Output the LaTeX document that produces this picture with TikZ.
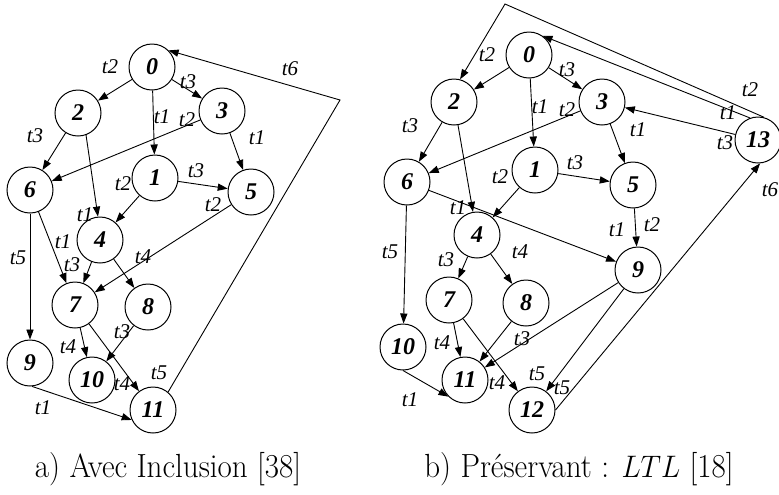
\documentclass[tikz,border=0pt]{standalone}
\usepackage{fontspec}
\newfontfamily\tms{Liberation Serif}
\usetikzlibrary{arrows.meta}
\begin{document}
\begin{tikzpicture}[x=0.5pt,y=-0.5pt,
  st/.style={circle,draw,line width=0.5pt,minimum size=23pt,inner sep=0pt,font=\tms\fontsize{12}{12}\selectfont\bfseries\itshape},
  lb/.style={inner sep=0pt,font=\tms\fontsize{10.5}{10.5}\selectfont\itshape},
  ar/.style={line width=0.45pt,-{Triangle[length=5pt,width=3.6pt]}},
  captxt/.style={inner sep=0pt,anchor=base,yscale=1.08,font=\fontsize{15.5}{17}\selectfont}]
\useasboundingbox (0,0) rectangle (779,494);
% ---------- left graph ----------
\node[st] (n0) at (152,67) {0};
\node[st] (n2) at (78,113) {2};
\node[st] (n3) at (222,111) {3};
\node[st] (n6) at (30,190) {6};
\node[st] (n1) at (155,178) {1};
\node[st] (n5) at (251,192) {5};
\node[st] (n4) at (100,240) {4};
\node[st] (n7) at (75,305) {7};
\node[st] (n8) at (148,307) {8};
\node[st] (n9) at (30,363) {9};
\node[st] (n10) at (92,380) {10};
\node[st] (n11) at (153,410) {11};
\coordinate (cL) at (340,100);
\draw[ar] (n0) -- (n2);
\draw[ar] (n0) -- (n3);
\draw[ar] (n0) -- (n1);
\draw[ar] (n2) -- (n6);
\draw[ar] (n2.-70) -- (n4.95);
\draw[ar] (n3) -- (n6);
\draw[ar] (n3) -- (n5);
\draw[ar] (n1) -- (n5);
\draw[ar] (n1) -- (n4);
\draw[ar] (n6) -- (n9);
\draw[ar] (n6) -- (n7);
\draw[ar] (n4) -- (n7);
\draw[ar] (n5) -- (n7);
\draw[ar] (n4) -- (n8);
\draw[ar] (n7) -- (n10);
\draw[ar] (n8) -- (n10);
\draw[ar] (n7) -- (n11);
\draw[ar] (n9.-85) -- (n11.205);
\draw[ar] (n11.50) -- (cL) -- (n0.45);
\node[lb] (a1) at (110,67) {t2};
\node[lb] (a2) at (188,82) {t3};
\node[lb] (a3) at (162,117) {t1};
\node[lb] (a4) at (187,120) {t2};
\node[lb] (a5) at (35,136) {t3};
\node[lb] (a6) at (257,138) {t1};
\node[lb] (a7) at (196,171) {t3};
\node[lb] (a8) at (123,184) {t2};
\node[lb] (a9) at (290,69) {t6};
\node[lb] (a10) at (213,205) {t2};
\node[lb] (a11) at (85,215) {t1};
\node[lb] (a12) at (63,242) {t1};
\node[lb] (a13) at (18,258) {t5};
\node[lb] (a14) at (72,265) {t3};
\node[lb] (a15) at (143,257) {t4};
\node[lb] (a16) at (122,332) {t3};
\node[lb] (a17) at (68,347) {t4};
\node[lb] (a18) at (159,373) {t5};
\node[lb] (a19) at (122,384) {t4};
\node[lb] (a20) at (43,408) {t1};
% ---------- right graph ----------
\node[st] (m0) at (529,55) {0};
\node[st] (m2) at (454,102) {2};
\node[st] (m3) at (602,102) {3};
\node[st] (m6) at (407,182) {6};
\node[st] (m1) at (535,170) {1};
\node[st] (m5) at (633,185) {5};
\node[st] (m13) at (758,140) {13};
\node[st] (m4) at (477,235) {4};
\node[st] (m9) at (638,270) {9};
\node[st] (m7) at (449,300) {7};
\node[st] (m8) at (526,303) {8};
\node[st] (m10) at (403,347) {10};
\node[st] (m11) at (465,380) {11};
\node[st] (m12) at (532,410) {12};
\coordinate (cR) at (505,4);
\draw[ar] (m0) -- (m2);
\draw[ar] (m0) -- (m3);
\draw[ar] (m0) -- (m1);
\draw[ar] (m2) -- (m6);
\draw[ar] (m2) -- (m4);
\draw[ar] (m3) -- (m6);
\draw[ar] (m3) -- (m5);
\draw[ar] (m1) -- (m5);
\draw[ar] (m1) -- (m4);
\draw[ar] (m6) -- (m10);
\draw[ar] (m6) -- (m9);
\draw[ar] (m5) -- (m9);
\draw[ar] (m4) -- (m7);
\draw[ar] (m4) -- (m8);
\draw[ar] (m7) -- (m11);
\draw[ar] (m8) -- (m11);
\draw[ar] (m9) -- (m11);
\draw[ar] (m7) -- (m12);
\draw[ar] (m9) -- (m12);
\draw[ar] (m10.-90) -- (m11.225);
\draw[ar] (m12.east) -- (m13.-85);
\draw[ar] (m13) -- (m3);
\draw[ar] (m13.110) -- (m0.55);
\draw[ar] (m13.75) -- (cR) -- (m2.75);
\node[lb] (b1) at (487,55) {t2};
\node[lb] (b2) at (567,70) {t3};
\node[lb] (b3) at (540,107) {t1};
\node[lb] (b4) at (567,110) {t2};
\node[lb] (b5) at (410,126) {t3};
\node[lb] (b6) at (638,130) {t1};
\node[lb] (b7) at (575,163) {t3};
\node[lb] (b8) at (500,177) {t2};
\node[lb] (b9) at (750,90) {t2};
\node[lb] (b10) at (728,113) {t1};
\node[lb] (b11) at (725,143) {t3};
\node[lb] (b12) at (770,190) {t6};
\node[lb] (b13) at (458,208) {t1};
\node[lb] (b14) at (617,230) {t1};
\node[lb] (b15) at (652,225) {t2};
\node[lb] (b16) at (390,252) {t5};
\node[lb] (b17) at (446,260) {t3};
\node[lb] (b18) at (520,252) {t4};
\node[lb] (b19) at (442,343) {t4};
\node[lb] (b20) at (522,339) {t3};
\node[lb] (b21) at (497,383) {t4};
\node[lb] (b22) at (537,374) {t5};
\node[lb] (b23) at (562,388) {t5};
\node[lb] (b24) at (410,400) {t1};
% ---------- captions ----------
\node[captxt] (capa) at (168,477) {a) Avec Inclusion [38]};
\node[captxt] (capb) at (579,477) {b) Préservant : $LTL$ [18]};
\end{tikzpicture}
\end{document}
